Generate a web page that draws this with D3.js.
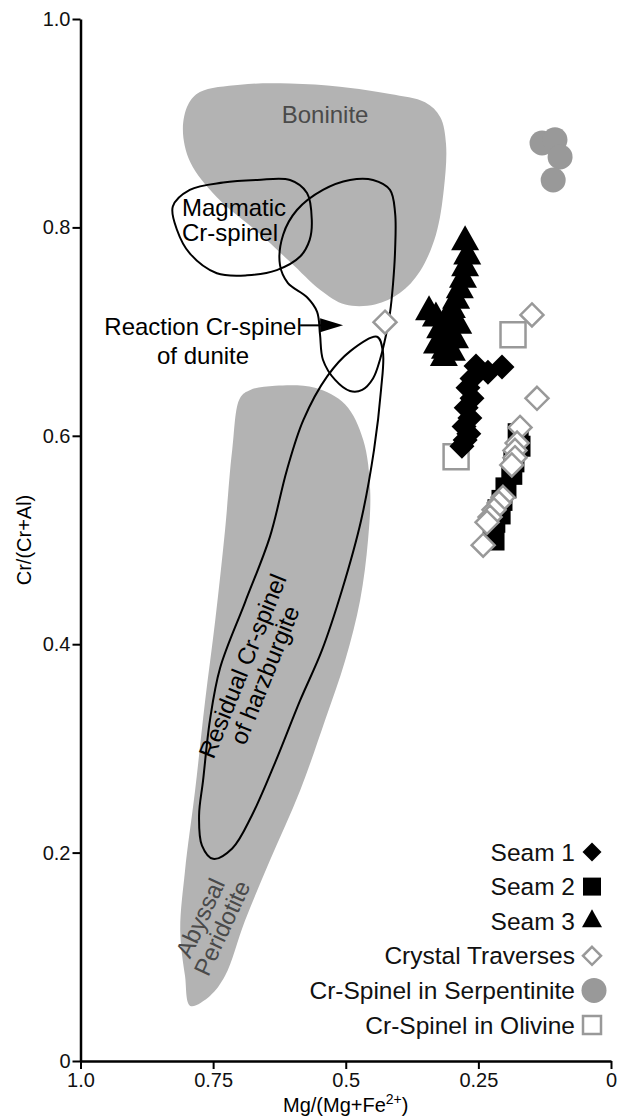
<!DOCTYPE html>
<html>
<head>
<meta charset="utf-8">
<script src="https://cdn.jsdelivr.net/npm/d3@7"></script>
<style>
  body { margin: 0; background: #fff; }
</style>
</head>
<body>
<div id="chart-area"></div>
<script>
const FONT = "'Liberation Sans', Arial, Helvetica, sans-serif";
const WIDTH = 617, HEIGHT = 1118;
const FIELD_GREY = "#b3b3b3";
const MARK_GREY = "#999999";

let margin = {top: 19, right: 6, bottom: 57, left: 80.5};

// data points: [Mg/(Mg+Fe2+), Cr/(Cr+Al)]
const seam1 = [[0.2055,0.666],[0.232,0.661],[0.2545,0.667],[0.262,0.655],[0.2695,0.646],[0.262,0.636],
  [0.273,0.627],[0.266,0.617],[0.277,0.609],[0.268,0.602],[0.275,0.596],[0.281,0.590]];
const seam2 = [[0.175,0.602],[0.1715,0.590],[0.183,0.575],[0.187,0.563],[0.198,0.550],[0.2055,0.538],
  [0.209,0.525],[0.213,0.529],[0.219,0.517],[0.222,0.506],[0.2205,0.500]];
const seam3 = [[0.275,0.786],[0.271,0.7725],[0.275,0.761],[0.279,0.750],[0.285,0.740],[0.292,0.730],
  [0.300,0.721],[0.305,0.711],[0.309,0.7015],[0.311,0.692],[0.313,0.682],[0.315,0.675],[0.300,0.680],
  [0.328,0.687],[0.322,0.7015],[0.343,0.719],[0.330,0.713],[0.288,0.706],[0.294,0.692]];
const traverses = [[0.426,0.709],[0.149,0.716],[0.1395,0.636],[0.1715,0.608],[0.177,0.593],[0.181,0.586],
  [0.181,0.579],[0.187,0.572],[0.2036,0.541],[0.211,0.5355],[0.2205,0.529],[0.228,0.522],[0.2337,0.517],[0.241,0.495]];
const serpentinite = [[0.130,0.881],[0.1056,0.884],[0.096,0.8676],[0.109,0.8455]];
const olivine = [[0.292,0.580],[0.1847,0.697]];

// field outlines
const boniniteField = [[0.775,0.930],[0.699,0.937],[0.605,0.938],[0.511,0.935],[0.4165,0.928],[0.3505,0.920],
  [0.322,0.906],[0.311,0.880],[0.315,0.837],[0.330,0.793],[0.360,0.758],[0.398,0.737],[0.445,0.726],
  [0.501,0.726],[0.548,0.740],[0.605,0.767],[0.667,0.796],[0.743,0.829],[0.793,0.8625],[0.807,0.894],[0.797,0.918]];
const abyssalField = [[0.699,0.6365],[0.714,0.5865],[0.7275,0.5096],[0.746,0.423],[0.765,0.346],[0.784,0.2596],
  [0.803,0.1827],[0.812,0.125],[0.803,0.0817],[0.793,0.0529],[0.756,0.0625],[0.7275,0.0817],[0.690,0.1346],
  [0.643,0.1923],[0.586,0.2596],[0.539,0.327],[0.501,0.3846],[0.473,0.442],[0.458,0.500],[0.454,0.548],
  [0.467,0.596],[0.501,0.630],[0.558,0.646],[0.633,0.648],[0.680,0.644]];
const magmaticField = [[0.826,0.820],[0.794,0.836],[0.731,0.843],[0.667,0.8455],[0.605,0.8455],[0.573,0.833],
  [0.564,0.807],[0.568,0.788],[0.586,0.772],[0.630,0.759],[0.686,0.754],[0.743,0.756],[0.794,0.775],[0.818,0.7975]];
const reactionField = [[0.4166,0.718],[0.424,0.697],[0.4355,0.673],[0.4486,0.655],[0.469,0.644],[0.492,0.643],
  [0.520,0.6536],[0.543,0.673],[0.5485,0.697],[0.554,0.719],[0.573,0.733],[0.609,0.7466],[0.624,0.764],
  [0.618,0.793],[0.592,0.8167],[0.543,0.836],[0.492,0.8455],[0.4486,0.8455],[0.4166,0.836],[0.407,0.814],
  [0.407,0.778],[0.411,0.745]];
const residualField = [[0.441,0.695],[0.430,0.681],[0.4335,0.644],[0.4467,0.5865],[0.471,0.519],[0.507,0.452],
  [0.545,0.394],[0.586,0.346],[0.633,0.2865],[0.677,0.2356],[0.714,0.204],[0.750,0.194],[0.771,0.2067],
  [0.7765,0.2356],[0.769,0.269],[0.756,0.327],[0.737,0.377],[0.690,0.440],[0.643,0.503],[0.611,0.567],
  [0.580,0.615],[0.535,0.657],[0.492,0.681]];

const xTicks = [1, 0.75, 0.5, 0.25, 0];
const yTicks = [0, 0.2, 0.4, 0.6, 0.8, 1];
const legendLabels = ["Seam 1", "Seam 2", "Seam 3", "Crystal Traverses", "Cr-Spinel in Serpentinite", "Cr-Spinel in Olivine"];

const svg = d3.select("#chart-area").append("svg")
    .attr("width", WIDTH)
    .attr("height", HEIGHT)
    .style("font-family", FONT);

const x = d3.scaleLinear().domain([1, 0]).range([margin.left, WIDTH - margin.right]);
const y = d3.scaleLinear().domain([0, 1]).range([HEIGHT - margin.bottom, margin.top]);

const outline = d3.line()
    .x(d => x(d[0]))
    .y(d => y(d[1]))
    .curve(d3.curveCatmullRomClosed.alpha(0.5));

// marker shapes
function diamondPath(r) { return `M0,${-r}L${r},0L0,${r}L${-r},0Z`; }
function squarePath(s) { let h = s / 2; return `M${-h},${-h}H${h}V${h}H${-h}Z`; }
function trianglePath(w, h) { return `M0,${-h * 2 / 3}L${w / 2},${h / 3}L${-w / 2},${h / 3}Z`; }

// shaded fields
svg.append("path").attr("d", outline(boniniteField)).attr("fill", FIELD_GREY);
svg.append("path").attr("d", outline(abyssalField)).attr("fill", FIELD_GREY);

// grey field labels
addLabel(svg, ["Boninite"], x(0.539), y(0.900), 0, "middle", "#4a4a4a");
addLabel(svg, ["Abyssal", "Peridotite"], x(0.760), y(0.134), -65, "middle", "#4a4a4a");

// outlined fields
[magmaticField, reactionField, residualField].forEach(f => {
    svg.append("path")
        .attr("d", outline(f))
        .attr("fill", "none")
        .attr("stroke", "#000")
        .attr("stroke-width", 2);
});

addLabel(svg, ["Magmatic", "Cr-spinel"], x(0.8087), y(0.811), 0, "start", "#000", 1.04);
addLabel(svg, ["Reaction Cr-spinel", "of dunite"], x(0.769), y(0.697), 0, "middle", "#000", 1.2);
addLabel(svg, ["Residual Cr-spinel", "of harzburgite"], x(0.680), y(0.376), -68, "middle", "#000");

// arrow to the reaction field
svg.append("line")
    .attr("x1", x(0.586)).attr("y1", y(0.706))
    .attr("x2", x(0.528)).attr("y2", y(0.706))
    .attr("stroke", "#000").attr("stroke-width", 2);
svg.append("path")
    .attr("transform", `translate(${x(0.505)},${y(0.706)})`)
    .attr("d", "M0,0L-23,-7L-23,7Z")
    .attr("fill", "#000");

// axes
let xAxis = svg.append("g")
    .attr("transform", `translate(0,${y(0)})`)
    .call(d3.axisBottom(x).tickValues(xTicks).tickSize(8).tickPadding(4).tickSizeOuter(0)
        .tickFormat(d => d === 0 ? "0" : d === 1 ? "1.0" : String(d)));
let yAxis = svg.append("g")
    .attr("transform", `translate(${x(1)},0)`)
    .call(d3.axisLeft(y).tickValues(yTicks).tickSize(8).tickPadding(2).tickSizeOuter(0)
        .tickFormat(d => d === 0 ? "0" : d3.format(".1f")(d)));
[xAxis, yAxis].forEach(a => {
    a.select(".domain").attr("stroke-width", 2.5);
    a.selectAll(".tick line").attr("stroke-width", 2);
    a.selectAll("text").attr("font-size", "20px").attr("font-family", FONT).attr("fill", "#111");
});

svg.append("text")
    .attr("transform", "rotate(-90)")
    .attr("x", -(y(0) + y(1)) / 2)
    .attr("y", 31)
    .attr("text-anchor", "middle")
    .attr("font-size", "20px")
    .text("Cr/(Cr+Al)");

let xTitle = svg.append("text")
    .attr("x", (x(1) + x(0)) / 2)
    .attr("y", 1112)
    .attr("text-anchor", "middle")
    .attr("font-size", "20px");
xTitle.append("tspan").text("Mg/(Mg+Fe");
xTitle.append("tspan").attr("dy", -8).attr("font-size", "14px").text("2+");
xTitle.append("tspan").attr("dy", 8).text(")");

// data points
plotPoints(olivine, squarePath(25), "#fff", MARK_GREY);
plotPoints(seam3, trianglePath(28, 25), "#000", "none");
plotPoints(seam1, diamondPath(12.5), "#000", "none");
plotPoints(seam2, squarePath(21), "#000", "none");
plotPoints(traverses, diamondPath(11.5), "#fff", MARK_GREY);
svg.append("g").selectAll("circle")
    .data(serpentinite)
    .join("circle")
    .attr("cx", d => x(d[0]))
    .attr("cy", d => y(d[1]))
    .attr("r", 12.5)
    .attr("fill", MARK_GREY);

// legend
const legendSymbols = [
    {d: diamondPath(9.5), fill: "#000", stroke: "none"},
    {d: squarePath(18), fill: "#000", stroke: "none"},
    {d: trianglePath(20, 18), fill: "#000", stroke: "none"},
    {d: diamondPath(9), fill: "#fff", stroke: MARK_GREY},
    {circle: 12.5, fill: MARK_GREY},
    {d: squarePath(18), fill: "#fff", stroke: MARK_GREY}
];
let legend = svg.append("g").attr("transform", "translate(0,852)");
legendLabels.forEach((label, i) => {
    let row = legend.append("g").attr("transform", `translate(0,${i * 34.6})`);
    row.append("text")
        .attr("x", 575)
        .attr("y", 8.5)
        .attr("text-anchor", "end")
        .attr("font-size", "24.5px")
        .attr("fill", "#111")
        .text(label);
    let s = legendSymbols[i];
    if (s.circle) {
        row.append("circle").attr("cx", 594).attr("cy", 0).attr("r", s.circle).attr("fill", s.fill);
    } else {
        row.append("path")
            .attr("transform", "translate(592,0)")
            .attr("d", s.d)
            .attr("fill", s.fill)
            .attr("stroke", s.stroke)
            .attr("stroke-width", 2.5);
    }
});

function plotPoints(points, shape, fill, stroke) {
    svg.append("g").selectAll("path")
        .data(points)
        .join("path")
        .attr("transform", d => `translate(${x(d[0])},${y(d[1])})`)
        .attr("d", shape)
        .attr("fill", fill)
        .attr("stroke", stroke)
        .attr("stroke-width", 2.5);
}

//Add a multi-line label, optionally rotated around its anchor
function addLabel(to, lines, lx, ly, angle, anchor, colour, spacing) {
    let label = to.append("text")
        .attr("x", lx)
        .attr("y", ly)
        .attr("fill", colour)
        .attr("font-size", "24px")
        .attr("text-anchor", anchor);
    if (angle) {
        label.attr("transform", `rotate(${angle},${lx},${ly})`);
    }
    lines.forEach((t, i) => {
        label.append("tspan")
            .attr("x", lx)
            .attr("dy", i === 0 ? 0 : `${spacing || 1.0}em`)
            .text(t);
    });
    return label;
}
</script>
</body>
</html>
